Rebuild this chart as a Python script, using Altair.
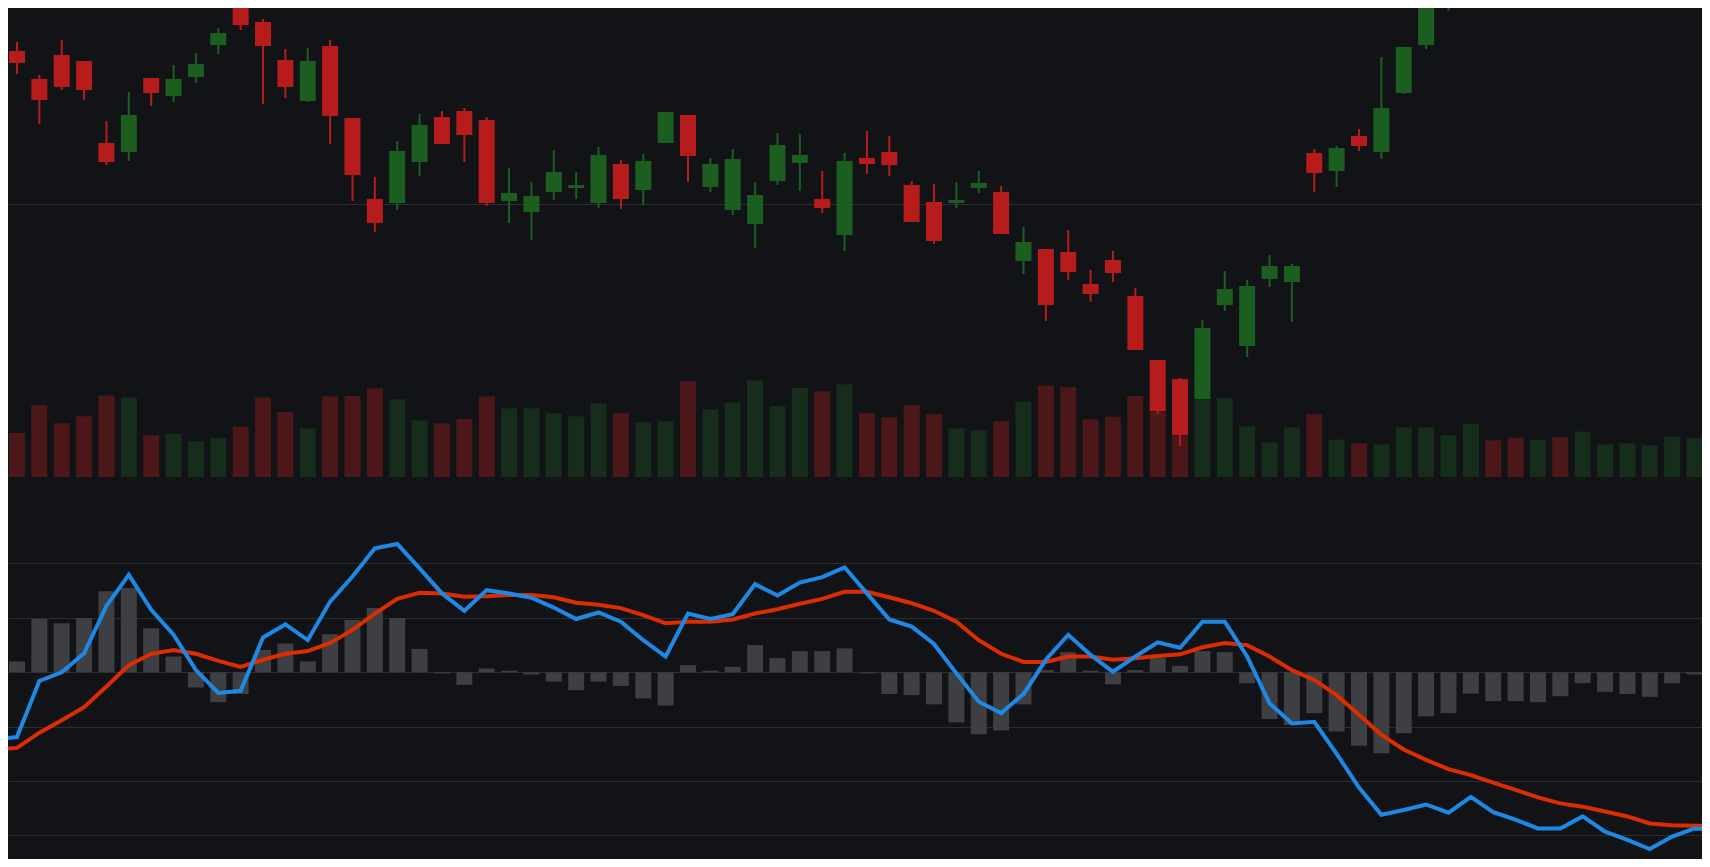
import altair as alt
import pandas as pd

# ---------------- data ----------------
# candlesticks, visible ones (index 0..64); later ones run above the view
open_ = [13.53, 13.25, 13.49, 13.43, 12.61, 12.52, 13.26, 13.08, 13.27, 13.59,
         13.97, 13.82, 13.44, 13.03, 13.58, 12.86, 12.05, 12.01, 12.42, 12.87,
         12.93, 12.84, 12.03, 11.92, 12.12, 12.16, 12.01, 12.40, 12.14, 12.61,
         12.89, 12.17, 11.94, 11.80, 12.23, 12.41, 12.05, 11.69, 12.46, 12.52,
         12.19, 12.02, 12.01, 12.16, 12.12, 11.43, 11.55, 11.52, 11.20, 11.44,
         11.08, 10.44, 10.25, 10.05, 10.99, 10.58, 11.25, 11.22, 12.51, 12.33,
         12.68, 12.52, 13.11, 13.59, 14.10]
high = [13.62, 13.29, 13.64, 13.43, 12.83, 13.12, 13.26, 13.39, 13.51, 13.76,
        14.01, 13.85, 13.55, 13.56, 13.64, 12.86, 12.27, 12.63, 12.90, 12.93,
        12.96, 12.87, 12.36, 12.22, 12.54, 12.32, 12.57, 12.44, 12.50, 12.92,
        12.89, 12.46, 12.55, 12.22, 12.71, 12.70, 12.33, 12.51, 12.73, 12.68,
        12.23, 12.20, 12.22, 12.33, 12.18, 11.77, 11.55, 11.74, 11.34, 11.53,
        11.16, 10.44, 10.26, 10.84, 11.33, 11.24, 11.49, 11.40, 12.55, 12.58,
        12.75, 13.47, 13.57, 14.40, 14.70]
low = [13.30, 12.80, 13.14, 13.04, 12.39, 12.43, 12.98, 13.02, 13.21, 13.50,
       13.74, 13.00, 13.06, 13.02, 12.60, 12.03, 11.72, 11.94, 12.28, 12.60,
       12.42, 11.98, 11.81, 11.64, 12.04, 12.05, 11.96, 11.95, 11.99, 12.61,
       12.22, 12.12, 11.89, 11.56, 12.19, 12.13, 11.91, 11.53, 12.30, 12.28,
       11.82, 11.60, 11.96, 12.11, 11.70, 11.30, 10.83, 11.24, 11.02, 11.22,
       10.54, 9.90, 9.58, 10.05, 10.93, 10.47, 11.17, 10.82, 12.12, 12.17,
       12.53, 12.45, 13.10, 13.55, 13.93]
close = [13.41, 13.04, 13.17, 13.14, 12.42, 12.89, 13.11, 13.25, 13.40, 13.71,
         13.79, 13.58, 13.17, 13.43, 12.88, 12.29, 11.81, 12.53, 12.79, 12.60,
         12.69, 12.01, 12.11, 12.08, 12.32, 12.19, 12.49, 12.05, 12.43, 12.92,
         12.48, 12.40, 12.45, 12.09, 12.59, 12.49, 11.96, 12.43, 12.40, 12.39,
         11.82, 11.63, 12.04, 12.21, 11.70, 11.62, 10.99, 11.32, 11.10, 11.31,
         10.54, 9.93, 9.69, 10.76, 11.15, 11.18, 11.38, 11.38, 12.31, 12.56,
         12.58, 12.96, 13.57, 14.34, 14.60]

# day direction (index 0..75) and volume
direction = ["down", "down", "down", "down", "down", "up", "down", "up", "up", "up",
             "down", "down", "down", "up", "down", "down", "down", "up", "up", "down",
             "down", "down", "up", "up", "up", "up", "up", "down", "up", "up",
             "down", "up", "up", "up", "up", "up", "down", "up", "down", "down",
             "down", "down", "up", "up", "down", "up", "down", "down", "down", "down",
             "down", "down", "down", "up", "up", "up", "up", "up", "down", "up",
             "down", "up", "up", "up", "up", "up", "down", "down", "up", "down",
             "up", "up", "up", "up", "up", "up"]
volume = [440, 717, 537, 607, 814, 794, 417, 430, 357, 387,
          504, 794, 650, 487, 807, 810, 887, 777, 564, 537,
          580, 807, 687, 687, 637, 607, 737, 637, 547, 557,
          957, 677, 747, 964, 707, 890, 857, 927, 637, 597,
          717, 627, 487, 467, 557, 754, 914, 897, 577, 602,
          810, 657, 417, 777, 787, 507, 347, 497, 627, 374,
          337, 327, 497, 497, 417, 530, 367, 394, 370, 397,
          454, 327, 337, 317, 400, 387]

# MACD lines, index -1..76
dif = [-0.123, -0.119, -0.016, 0.000, 0.035, 0.122, 0.179, 0.115, 0.069, 0.004,
       -0.038, -0.034, 0.064, 0.088, 0.059, 0.130, 0.176, 0.228, 0.236, 0.191,
       0.145, 0.113, 0.151, 0.145, 0.137, 0.119, 0.098, 0.110, 0.093, 0.059,
       0.029, 0.108, 0.098, 0.107, 0.162, 0.141, 0.165, 0.175, 0.193, 0.145,
       0.097, 0.084, 0.052, -0.002, -0.054, -0.075, -0.040, 0.023, 0.069, 0.032,
       0.001, 0.029, 0.055, 0.045, 0.093, 0.093, 0.029, -0.057, -0.094, -0.091,
       -0.150, -0.212, -0.262, -0.253, -0.243, -0.258, -0.229, -0.257, -0.271, -0.287,
       -0.287, -0.265, -0.293, -0.308, -0.325, -0.302, -0.287, -0.290]
dea = [-0.142, -0.139, -0.111, -0.088, -0.064, -0.026, 0.013, 0.034, 0.041, 0.034,
       0.021, 0.010, 0.023, 0.034, 0.039, 0.054, 0.078, 0.108, 0.135, 0.146,
       0.145, 0.139, 0.140, 0.142, 0.142, 0.138, 0.128, 0.124, 0.118, 0.105,
       0.090, 0.093, 0.093, 0.097, 0.108, 0.116, 0.126, 0.135, 0.148, 0.148,
       0.138, 0.127, 0.113, 0.093, 0.059, 0.034, 0.019, 0.019, 0.029, 0.029,
       0.023, 0.026, 0.030, 0.033, 0.046, 0.054, 0.050, 0.029, 0.004, -0.014,
       -0.042, -0.078, -0.115, -0.142, -0.161, -0.178, -0.189, -0.203, -0.216, -0.230,
       -0.241, -0.247, -0.256, -0.265, -0.278, -0.281, -0.282, -0.282]
# MACD histogram, index 0..75
hist = [0.020, 0.098, 0.090, 0.100, 0.149, 0.155, 0.081, 0.029, -0.028, -0.055,
        -0.040, 0.041, 0.053, 0.020, 0.070, 0.096, 0.118, 0.100, 0.043, -0.002,
        -0.023, 0.007, 0.003, -0.004, -0.017, -0.033, -0.017, -0.025, -0.048, -0.061,
        0.013, 0.003, 0.010, 0.050, 0.026, 0.039, 0.039, 0.044, -0.002, -0.040,
        -0.042, -0.059, -0.092, -0.114, -0.107, -0.059, 0.004, 0.037, 0.003, -0.022,
        0.004, 0.026, 0.012, 0.039, 0.037, -0.020, -0.086, -0.097, -0.075, -0.109,
        -0.135, -0.149, -0.112, -0.081, -0.075, -0.039, -0.053, -0.053, -0.055, -0.044,
        -0.020, -0.036, -0.040, -0.045, -0.020, -0.004]

price_grid = [12.0]
macd_grid = [-0.3, -0.2, -0.1, 0.0, 0.1, 0.2]

# ---------------- styles ----------------
BG = "#121317"
GRID = "#2c2d31"
UP = "#1b5e20"
DOWN = "#b71c1c"
VOL_UP = "#152d1a"
VOL_DOWN = "#4c1719"
HIST = "#3e3f42"
DIF_C = "#1e88e5"
DEA_C = "#dd2c00"

W = 1694
H_TOP = 469
H_BOT = 382
X_DOM = [-0.178, 75.111]
P_DOM = [9.27, 13.96]
V_DOM = [0, 4690]
M_DOM = [-0.3432, 0.359]

# ---------------- frames ----------------
candles = pd.DataFrame({
    "i": list(range(len(open_))),
    "open": open_, "high": high, "low": low, "close": close,
    "dir": direction[:len(open_)],
})
vol_df = pd.DataFrame({"i": list(range(len(volume))), "vol": volume, "vdir": direction})
hist_df = pd.DataFrame({"i": list(range(len(hist))), "hist": hist})
lines_df = pd.DataFrame({
    "i": list(range(-1, -1 + len(dif))),
    "dif": dif, "dea": dea,
})

x_enc = alt.X("i:Q", scale=alt.Scale(domain=X_DOM, nice=False, zero=False), axis=None)


def grid_axis(vals):
    return alt.Axis(values=vals, grid=True, gridColor=GRID, gridWidth=1, labels=False,
                    ticks=False, domain=False, title=None, minExtent=0, maxExtent=0)


dir_color = alt.Color("dir:N", scale=alt.Scale(domain=["up", "down"], range=[UP, DOWN]), legend=None)
vol_color = alt.Color("vdir:N", scale=alt.Scale(domain=["up", "down"], range=[VOL_UP, VOL_DOWN]), legend=None)

bodies = alt.Chart(candles).mark_bar(size=16, clip=True).encode(
    x=x_enc,
    y=alt.Y("open:Q", scale=alt.Scale(domain=P_DOM, nice=False, zero=False), axis=grid_axis(price_grid)),
    y2="close:Q",
    color=dir_color,
)
vols = alt.Chart(vol_df).mark_bar(size=16, clip=True).encode(
    x=x_enc,
    y=alt.Y("vol:Q", scale=alt.Scale(domain=V_DOM, nice=False), axis=None),
    color=vol_color,
)
wicks = alt.Chart(candles).mark_rule(strokeWidth=2, clip=True).encode(
    x=x_enc,
    y=alt.Y("high:Q", scale=alt.Scale(domain=P_DOM, nice=False, zero=False), axis=None),
    y2="low:Q",
    color=dir_color,
)
top = alt.layer(bodies, vols, wicks).resolve_scale(
    y="independent", color="independent"
).properties(width=W, height=H_TOP)

m_scale = alt.Scale(domain=M_DOM, nice=False, zero=False)
hbars = alt.Chart(hist_df).mark_bar(size=16, clip=True, color=HIST).encode(
    x=x_enc,
    y=alt.Y("hist:Q", scale=m_scale, axis=grid_axis(macd_grid)),
)
dea_line = alt.Chart(lines_df).mark_line(color=DEA_C, strokeWidth=4, clip=True).encode(
    x=x_enc, y=alt.Y("dea:Q", scale=m_scale),
)
dif_line = alt.Chart(lines_df).mark_line(color=DIF_C, strokeWidth=4, clip=True).encode(
    x=x_enc, y=alt.Y("dif:Q", scale=m_scale),
)
bottom = alt.layer(hbars, dea_line, dif_line).properties(width=W, height=H_BOT)

chart = alt.vconcat(top, bottom, spacing=0).configure(
    background=BG, padding=0
).configure_view(stroke=None)

chart.save("out.html", embed_options={"renderer": "svg", "actions": False})
